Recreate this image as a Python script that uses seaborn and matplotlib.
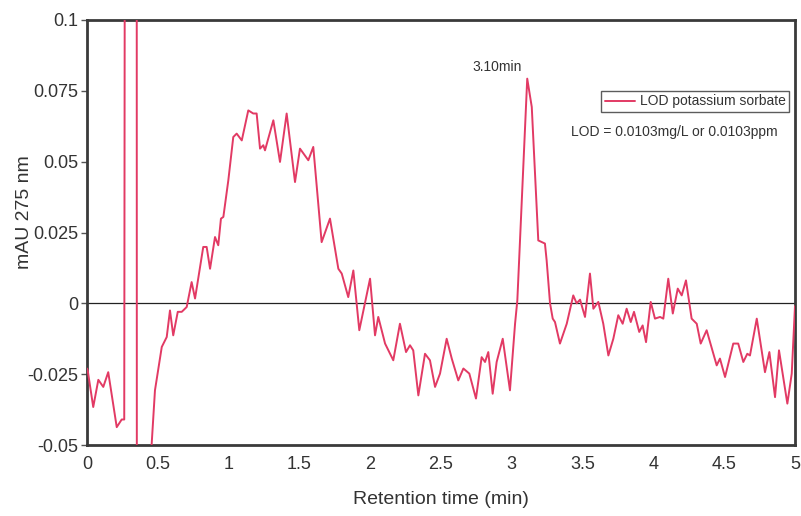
import matplotlib
matplotlib.use("Agg")
import matplotlib.pyplot as plt
import seaborn as sns
import pandas as pd

# Retention time (min) and absorbance (mAU)
time_min = [0.000, 0.005, 0.044, 0.080, 0.115, 0.150, 0.210, 0.245, 0.263, 0.275,
            0.350, 0.352, 0.445, 0.457,
            0.480, 0.528, 0.563, 0.586, 0.609, 0.641, 0.669, 0.704, 0.739, 0.763,
            0.821, 0.845, 0.869, 0.904, 0.927, 0.946, 0.963, 0.998, 1.033, 1.057,
            1.093, 1.139, 1.174, 1.198, 1.222, 1.245, 1.257, 1.316, 1.363, 1.410,
            1.469, 1.504, 1.563, 1.598, 1.657, 1.716, 1.775, 1.799, 1.845, 1.881,
            1.923, 1.999, 2.034, 2.057, 2.105, 2.163, 2.210, 2.253, 2.281, 2.304,
            2.340, 2.387, 2.422, 2.458, 2.493, 2.540, 2.576, 2.622, 2.658, 2.700,
            2.747, 2.787, 2.811, 2.834, 2.865, 2.893, 2.936, 2.987, 3.023, 3.039,
            3.109, 3.141, 3.187, 3.234, 3.246, 3.270, 3.289, 3.305, 3.340, 3.388,
            3.434, 3.458, 3.482, 3.517, 3.552, 3.576, 3.611, 3.646, 3.682, 3.717,
            3.752, 3.783, 3.811, 3.840, 3.863, 3.900, 3.924, 3.948, 3.981, 4.011,
            4.047, 4.070, 4.105, 4.137, 4.172, 4.200, 4.230, 4.270, 4.306, 4.334,
            4.376, 4.447, 4.470, 4.506, 4.564, 4.599, 4.635, 4.663, 4.682, 4.730,
            4.788, 4.819, 4.859, 4.887, 4.946, 4.977, 5.000]
absorbance = [-0.0230, -0.0237, -0.0366, -0.0270, -0.0295, -0.0243, -0.0437, -0.0410, -0.0410, 0.5000,
              0.5000, -0.0800, -0.0600, -0.0494,
              -0.0307, -0.0154, -0.0119, -0.0025, -0.0113, -0.0030, -0.0030, -0.0013, 0.0075, 0.0017,
              0.0199, 0.0199, 0.0122, 0.0234, 0.0205, 0.0299, 0.0305, 0.0434, 0.0587, 0.0599,
              0.0575, 0.0681, 0.0670, 0.0670, 0.0546, 0.0558, 0.0540, 0.0646, 0.0499, 0.0670,
              0.0428, 0.0546, 0.0505, 0.0552, 0.0216, 0.0299, 0.0122, 0.0105, 0.0022, 0.0116,
              -0.0095, 0.0087, -0.0113, -0.0048, -0.0142, -0.0201, -0.0072, -0.0172, -0.0148, -0.0166,
              -0.0325, -0.0178, -0.0201, -0.0295, -0.0248, -0.0125, -0.0195, -0.0272, -0.0230, -0.0248,
              -0.0336, -0.0190, -0.0207, -0.0172, -0.0319, -0.0207, -0.0125, -0.0307, -0.0072, 0.0010,
              0.0793, 0.0693, 0.0222, 0.0211, 0.0152, 0.0000, -0.0054, -0.0066, -0.0142, -0.0072,
              0.0028, 0.0000, 0.0013, -0.0048, 0.0105, -0.0019, 0.0005, -0.0072, -0.0184, -0.0125,
              -0.0042, -0.0072, -0.0019, -0.0066, -0.0030, -0.0101, -0.0078, -0.0137, 0.0005, -0.0054,
              -0.0048, -0.0054, 0.0087, -0.0036, 0.0052, 0.0028, 0.0081, -0.0054, -0.0072, -0.0142,
              -0.0095, -0.0219, -0.0195, -0.0260, -0.0142, -0.0142, -0.0207, -0.0178, -0.0184, -0.0054,
              -0.0243, -0.0172, -0.0331, -0.0166, -0.0354, -0.0248, -0.0010]

x_ticks = [0, 0.5, 1, 1.5, 2, 2.5, 3, 3.5, 4, 4.5, 5]
x_tick_labels = ["0", "0.5", "1", "1.5", "2", "2.5", "3", "3.5", "4", "4.5", "5"]
y_ticks = [-0.05, -0.025, 0, 0.025, 0.05, 0.075, 0.1]
y_tick_labels = ["-0.05", "-0.025", "0", "0.025", "0.05", "0.075", "0.1"]

series_name = "LOD potassium sorbate"
peak_label = "3.10min"
peak_time = 3.109
peak_value = 0.0793
lod_text = "LOD = 0.0103mg/L or 0.0103ppm"

sns.set_theme(style="white")
plt.rcParams['font.family'] = ['Liberation Sans', 'DejaVu Sans']

df = pd.DataFrame({"Retention time (min)": time_min, "mAU 275 nm": absorbance})

fig = plt.figure(figsize=(8.01, 5.16), dpi=100)
ax = fig.add_axes([87/801, 1 - 445/516, (795 - 87)/801, (445 - 20)/516])

line_color = "#e23a64"
sns.lineplot(data=df, x="Retention time (min)", y="mAU 275 nm", sort=False,
             estimator=None, color=line_color, linewidth=1.4, ax=ax,
             label=series_name, zorder=3)

ax.axhline(0, color="#222222", linewidth=0.9, zorder=2)

ax.set_xlim(0, 5)
ax.set_ylim(-0.05, 0.1)
ax.set_xticks(x_ticks)
ax.set_xticklabels(x_tick_labels)
ax.set_yticks(y_ticks)
ax.set_yticklabels(y_tick_labels)

ax.tick_params(axis="y", which="both", left=True, length=4, width=1, color="#555555",
               labelsize=13, labelcolor="#333333", pad=2)
ax.tick_params(axis="x", which="both", bottom=False, length=0,
               labelsize=13, labelcolor="#333333", pad=8)

for sp in ax.spines.values():
    sp.set_color("#3a3a3a")
    sp.set_linewidth(2)

ax.set_xlabel("Retention time (min)", fontsize=14, color="#333333")
ax.set_ylabel("mAU 275 nm", fontsize=14, color="#333333")
ax.xaxis.set_label_coords(0.5, -(491 - 445)/425, transform=ax.transAxes)
ax.yaxis.set_label_coords(-(87 - 33)/708, (445 - 212)/425, transform=ax.transAxes)

ax.annotate(peak_label, xy=(peak_time, peak_value), xytext=(-4, 3),
            textcoords="offset points", ha="right", va="bottom",
            fontsize=10, color="#333333")

leg = ax.legend(loc="upper right", bbox_to_anchor=((789 - 87)/708, (445 - 91)/425),
                frameon=True, fancybox=False, fontsize=10, handlelength=2.2,
                borderpad=0.25, handletextpad=0.3, borderaxespad=0)
leg.get_frame().set_edgecolor("#333333")
leg.get_frame().set_linewidth(1)
for t in leg.get_texts():
    t.set_color("#333333")

ax.text((778 - 87)/708, (445 - 132)/425, lod_text, transform=ax.transAxes,
        ha="right", va="center", fontsize=10, color="#333333")

fig.savefig("out.png", dpi=100)
